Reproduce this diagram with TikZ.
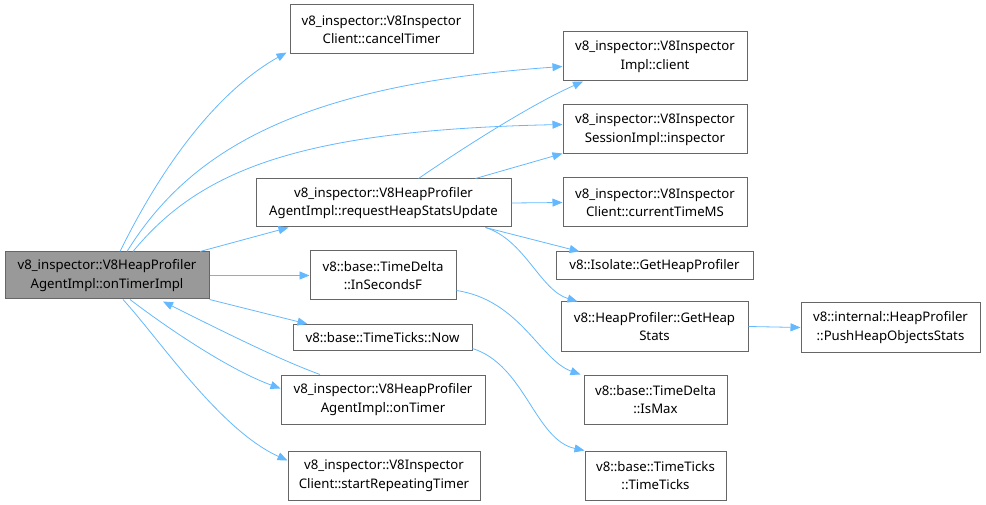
\documentclass[tikz,border=0pt]{standalone}
\usepackage{fontspec}
\setmainfont{Noto Sans}
\usetikzlibrary{arrows.meta}
\definecolor{edgec}{HTML}{63B8FF}
\definecolor{boxc}{HTML}{666666}
\definecolor{mainc}{HTML}{999999}
\tikzset{
  fn/.style={draw=boxc, line width=1pt, fill=white, align=center, inner sep=0pt,
    font=\fontsize{13.2}{18.5}\selectfont},
  mainfn/.style={fn, fill=mainc},
  call/.style={draw=edgec, line width=0.8pt, -{Triangle[length=10pt,width=8pt]}}
}
\begin{document}
\begin{tikzpicture}[x=1pt,y=-1pt]
\useasboundingbox (0,0) rectangle (986,505);
\node[mainfn, minimum width=204pt, minimum height=47pt] (main) at (107,275.5) {v8\_inspector::V8HeapProfiler\\AgentImpl::onTimerImpl};
\node[fn, minimum width=183pt, minimum height=49pt] (cancel) at (381.5,29.5) {v8\_inspector::V8Inspector\\Client::cancelTimer};
\node[fn, minimum width=184pt, minimum height=49pt] (client) at (655,56.5) {v8\_inspector::V8Inspector\\Impl::client};
\node[fn, minimum width=184pt, minimum height=49pt] (insp) at (655,129.5) {v8\_inspector::V8Inspector\\SessionImpl::inspector};
\node[fn, minimum width=255pt, minimum height=48pt] (req) at (383.5,203) {v8\_inspector::V8HeapProfiler\\AgentImpl::requestHeapStatsUpdate};
\node[fn, minimum width=184pt, minimum height=49pt] (ctime) at (655,202.5) {v8\_inspector::V8Inspector\\Client::currentTimeMS};
\node[fn, minimum width=197pt, minimum height=28pt] (ghp) at (654.5,266) {v8::Isolate::GetHeapProfiler};
\node[fn, minimum width=146pt, minimum height=49pt] (insec) at (383,275.5) {v8::base::TimeDelta\\::InSecondsF};
\node[fn, minimum width=187pt, minimum height=49pt] (ghs) at (654.5,326.5) {v8::HeapProfiler::GetHeap\\Stats};
\node[fn, minimum width=179pt, minimum height=49pt] (push) at (890.5,327.5) {v8::internal::HeapProfiler\\::PushHeapObjectsStats};
\node[fn, minimum width=179pt, minimum height=26pt] (now) at (382.5,337.5) {v8::base::TimeTicks::Now};
\node[fn, minimum width=143pt, minimum height=49pt] (ismax) at (655.5,399.5) {v8::base::TimeDelta\\::IsMax};
\node[fn, minimum width=204pt, minimum height=49pt] (ontimer) at (383,399.5) {v8\_inspector::V8HeapProfiler\\AgentImpl::onTimer};
\node[fn, minimum width=192pt, minimum height=49pt] (start) at (384,475.5) {v8\_inspector::V8Inspector\\Client::startRepeatingTimer};
\node[fn, minimum width=141pt, minimum height=49pt] (ticks) at (655.5,475.5) {v8::base::TimeTicks\\::TimeTicks};

\draw[call] ([xshift=13pt]main.north) .. controls (165,160) and (220,90) .. ([xshift=-3pt,yshift=2pt]cancel.south west);
\draw[call] ([xshift=20pt]main.north) .. controls (190,150) and (300,85) .. ([yshift=-10pt]client.west);
\draw[call] ([xshift=26pt]main.north) .. controls (200,170) and (300,130) .. ([yshift=5pt]insp.west);
\draw[call] ([xshift=93pt]main.north) -- ([xshift=-95pt]req.south);
\draw[call] (main.east) -- (insec.west);
\draw[call] (main.south east) -- ([xshift=-75pt]now.north);
\draw[call] ([xshift=-63pt]ontimer.north) .. controls (280,360) and (220,330) .. ([xshift=56pt,yshift=-2pt]main.south);
\draw[call] ([xshift=23pt]main.south) .. controls (170,330) and (230,370) .. ([yshift=11pt]ontimer.west);
\draw[call] ([xshift=16pt]main.south) .. controls (160,340) and (220,430) .. ([yshift=15pt]start.west);
\draw[call] ([xshift=35pt]req.north) .. controls (460,150) and (530,105) .. ([xshift=-72pt]client.south);
\draw[call] ([xshift=92pt]req.north) -- ([yshift=1pt]insp.south west);
\draw[call] (req.east) -- (ctime.west);
\draw[call] ([xshift=-26pt]req.south east) -- ([xshift=-75pt]ghp.north);
\draw[call] ([xshift=-26pt]req.south east) .. controls (525,240) and (540,290) .. ([xshift=-77pt]ghs.north);
\draw[call] (ghs.east) -- (push.west);
\draw[call] ([yshift=-15pt]insec.east) .. controls (520,300) and (540,360) .. ([xshift=-75pt]ismax.north);
\draw[call] ([yshift=-11pt]now.east) .. controls (525,365) and (535,440) .. ([xshift=-71pt]ticks.north);
\end{tikzpicture}
\end{document}
